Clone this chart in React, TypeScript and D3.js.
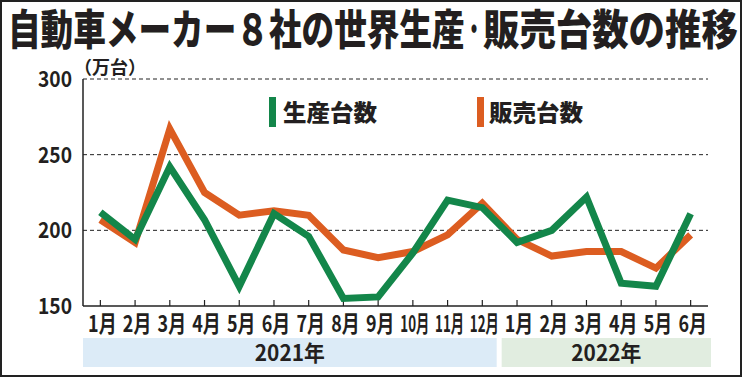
import React from "react";
import * as d3 from "d3";

const months = ["1月","2月","3月","4月","5月","6月","7月","8月","9月","10月","11月","12月","1月","2月","3月","4月","5月","6月"];
const production = [212,194,242,207,163,211,196,155,156,185,220,215,192,200,222,165,163,211];
const sales = [207,192,267,225,210,213,210,187,182,186,197,218,194,183,186,186,175,197];
const yTicks = [150,200,250,300];
const gridTicks = [200,250,300];
const years = [
  { label: "2021年", from: 0, to: 11, color: "#dcebf7" },
  { label: "2022年", from: 12, to: 17, color: "#e1ede0" },
];
const seriesNames = ["生産台数", "販売台数"];
const titleParts = ["自動車メーカー８社の世界生産", "・", "販売台数の推移"];
const unit = "（万台）";

const W = 751, H = 377;
const GREEN = "#13864a";
const ORANGE = "#dc5d21";
const FONT = "'Noto Sans CJK JP', 'Noto Sans', sans-serif";

export default function App() {
  const left = 83, right = 708, top = 79, bottom = 306;
  const idx = months.map((_, i) => i);
  const x = d3.scaleBand<number>().domain(idx).range([left, right]);
  const cx = (i: number) => (x(i) as number) + x.bandwidth() / 2;
  const y = d3.scaleLinear().domain([150, 300]).range([bottom, top]);
  const line = d3.line<number>().x((_, i) => cx(i)).y((d) => y(d));

  return (
    <svg width={W} height={H} style={{ position: "fixed", left: 0, top: 0, background: "#fff" }}>
      <rect x={0} y={0} width={W} height={H} fill="#fff" />
      <rect x={1} y={1} width={740} height={375} fill="none" stroke="#222" strokeWidth={2} />
      <text transform="translate(8,45) scale(0.777,1)" fontFamily={FONT} fontWeight={900} fontSize={42} fill="#231f20">{titleParts[0]}</text>
      <text transform="translate(474,40) scale(0.6,1)" textAnchor="middle" fontFamily={FONT} fontWeight={900} fontSize={30} fill="#231f20">{titleParts[1]}</text>
      <text transform="translate(483,45) scale(0.867,1)" fontFamily={FONT} fontWeight={900} fontSize={42} fill="#231f20">{titleParts[2]}</text>
      <text x={74} y={74} fontFamily={FONT} fontWeight={700} fontSize={18} fill="#231f20"
        textLength={72} lengthAdjust="spacingAndGlyphs">{unit}</text>

      {gridTicks.map((t) => (
        <line key={t} x1={left} x2={right} y1={y(t)} y2={y(t)} stroke="#222" strokeWidth={1} strokeDasharray="4,3" />
      ))}
      {yTicks.map((t) => (
        <text key={t} x={72} y={y(t) + 8} textAnchor="end" fontFamily={FONT} fontWeight={700} fontSize={22}
          fill="#231f20" textLength={34} lengthAdjust="spacingAndGlyphs">{t}</text>
      ))}
      <line x1={left} x2={left} y1={top} y2={bottom} stroke="#222" strokeWidth={1.5} />
      <line x1={left} x2={right} y1={bottom} y2={bottom} stroke="#222" strokeWidth={1.5} />
      {idx.map((i) => (
        <line key={i} x1={cx(i)} x2={cx(i)} y1={bottom} y2={bottom - 6} stroke="#222" strokeWidth={1.2} />
      ))}
      {months.map((m, i) => (
        <text key={i} transform={`translate(${cx(i) + 2},332) scale(${m.length > 2 ? 0.58 : 0.78},1)`}
          textAnchor="middle" fontFamily={FONT} fontWeight={700} fontSize={23} fill="#231f20">{m}</text>
      ))}

      {years.map((yr) => {
        const x0 = yr.from === 0 ? left : (x(yr.from) as number) + 2;
        const x1 = (x(yr.to) as number) + x.bandwidth() + (yr.from === 0 ? -3 : 3);
        return (
          <g key={yr.label}>
            <rect x={x0} y={338} width={x1 - x0} height={29} fill={yr.color} />
            <text x={(x0 + x1) / 2} y={361} textAnchor="middle" fontFamily={FONT} fontWeight={700} fontSize={22}
              fill="#231f20" textLength={70} lengthAdjust="spacingAndGlyphs">{yr.label}</text>
          </g>
        );
      })}

      <path d={line(sales) || ""} fill="none" stroke={ORANGE} strokeWidth={7} strokeLinejoin="miter" />
      <path d={line(production) || ""} fill="none" stroke={GREEN} strokeWidth={7} strokeLinejoin="miter" />

      <rect x={269} y={97} width={7} height={30} fill={GREEN} />
      <text x={283} y={121} fontFamily={FONT} fontWeight={900} fontSize={23} fill="#231f20"
        textLength={94} lengthAdjust="spacingAndGlyphs">{seriesNames[0]}</text>
      <rect x={477} y={97} width={7} height={30} fill={ORANGE} />
      <text x={489} y={121} fontFamily={FONT} fontWeight={900} fontSize={23} fill="#231f20"
        textLength={94} lengthAdjust="spacingAndGlyphs">{seriesNames[1]}</text>
    </svg>
  );
}
